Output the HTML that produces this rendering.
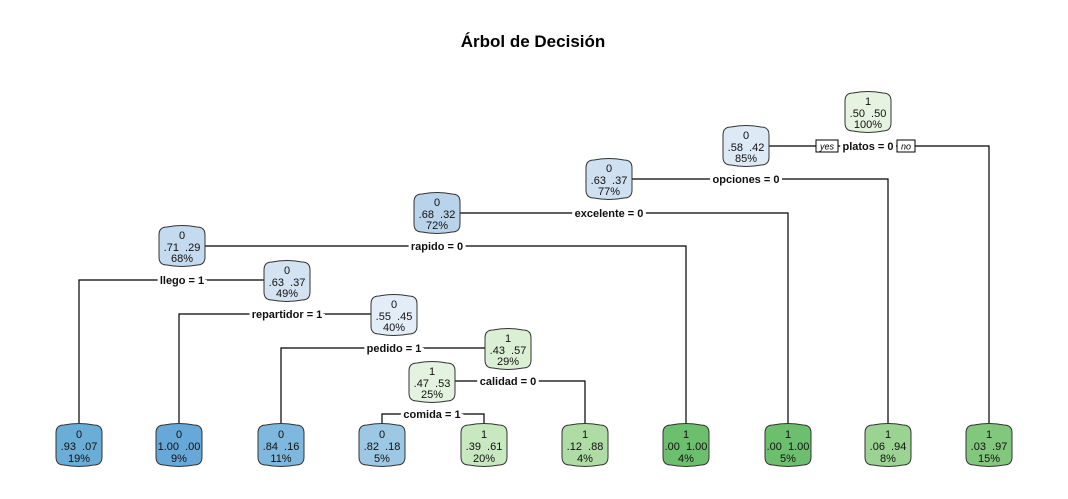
<!DOCTYPE html>
<html><head><meta charset="utf-8"><style>
html,body{margin:0;padding:0;background:#fff;}
svg{display:block;font-family:"Liberation Sans",Arial,sans-serif;}
.n{stroke:#333;stroke-width:1;}
.t{font-size:11px;text-anchor:middle;fill:#111;}
.l{font-size:11px;font-weight:bold;text-anchor:middle;fill:#111;paint-order:stroke;stroke:#fff;stroke-width:6px;}
.w{stroke:#000;stroke-width:1.2;fill:none;}
</style></head><body>
<svg width="1068" height="499" viewBox="0 0 1068 499">
<rect width="1068" height="499" fill="#fff"/>
<text x="533" y="47" font-size="17" font-weight="bold" text-anchor="middle">Árbol de Decisión</text>
<!-- connectors -->
<polyline class="w" points="769,146 989,146 989,425"/>
<polyline class="w" points="632,179 888,179 888,425"/>
<polyline class="w" points="460,213 788,213 788,425"/>
<polyline class="w" points="205,246 686,246 686,425"/>
<polyline class="w" points="79,425 79,280 264,280"/>
<polyline class="w" points="179,425 179,314 371,314"/>
<polyline class="w" points="281,425 281,348 485,348"/>
<polyline class="w" points="455,381 585,381 585,425"/>
<polyline class="w" points="382,425 382,414 484,414 484,425"/>
<!-- labels -->
<text class="l" x="868" y="150">platos = 0</text>
<rect x="816" y="140" width="22" height="12" fill="#fff" stroke="#000"/>
<text x="827" y="149.5" font-size="9" font-style="italic" text-anchor="middle">yes</text>
<rect x="897" y="140" width="18" height="12" fill="#fff" stroke="#000"/>
<text x="906" y="149.5" font-size="9" font-style="italic" text-anchor="middle">no</text>
<text class="l" x="746" y="183">opciones = 0</text>
<text class="l" x="609" y="217">excelente = 0</text>
<text class="l" x="437" y="250">rapido = 0</text>
<text class="l" x="182" y="284">llego = 1</text>
<text class="l" x="287" y="318">repartidor = 1</text>
<text class="l" x="394" y="352">pedido = 1</text>
<text class="l" x="508" y="385">calidad = 0</text>
<text class="l" x="432" y="418">comida = 1</text>
<!-- nodes -->
<g>
<path class="n" fill="#e5f3e0" d="M845,101 Q845,93 853,93 Q868,90 883,93 Q891,93 891,101 L891,123 Q891,131 883,131 Q868,134 853,131 Q845,131 845,123 Z"/>
<text class="t" x="868" y="105">1</text><text class="t" x="868" y="117">.50&#160;&#160;.50</text><text class="t" x="868" y="128">100%</text>
<path class="n" fill="#dde9f5" d="M723,135 Q723,127 731,127 Q746,124 761,127 Q769,127 769,135 L769,157 Q769,165 761,165 Q746,168 731,165 Q723,165 723,157 Z"/>
<text class="t" x="746" y="139">0</text><text class="t" x="746" y="151">.58&#160;&#160;.42</text><text class="t" x="746" y="162">85%</text>
<path class="n" fill="#cfe0f0" d="M586,168 Q586,160 594,160 Q609,157 624,160 Q632,160 632,168 L632,190 Q632,198 624,198 Q609,201 594,198 Q586,198 586,190 Z"/>
<text class="t" x="609" y="172">0</text><text class="t" x="609" y="184">.63&#160;&#160;.37</text><text class="t" x="609" y="195">77%</text>
<path class="n" fill="#b8d3ea" d="M414,202 Q414,194 422,194 Q437,191 452,194 Q460,194 460,202 L460,224 Q460,232 452,232 Q437,235 422,232 Q414,232 414,224 Z"/>
<text class="t" x="437" y="206">0</text><text class="t" x="437" y="218">.68&#160;&#160;.32</text><text class="t" x="437" y="229">72%</text>
<path class="n" fill="#c4daee" d="M159,235 Q159,227 167,227 Q182,224 197,227 Q205,227 205,235 L205,257 Q205,265 197,265 Q182,268 167,265 Q159,265 159,257 Z"/>
<text class="t" x="182" y="239">0</text><text class="t" x="182" y="251">.71&#160;&#160;.29</text><text class="t" x="182" y="262">68%</text>
<path class="n" fill="#d3e3f2" d="M264,270 Q264,262 272,262 Q287,259 302,262 Q310,262 310,270 L310,292 Q310,300 302,300 Q287,303 272,300 Q264,300 264,292 Z"/>
<text class="t" x="287" y="274">0</text><text class="t" x="287" y="286">.63&#160;&#160;.37</text><text class="t" x="287" y="297">49%</text>
<path class="n" fill="#e3edf7" d="M371,304 Q371,296 379,296 Q394,293 409,296 Q417,296 417,304 L417,326 Q417,334 409,334 Q394,337 379,334 Q371,334 371,326 Z"/>
<text class="t" x="394" y="308">0</text><text class="t" x="394" y="320">.55&#160;&#160;.45</text><text class="t" x="394" y="331">40%</text>
<path class="n" fill="#dbefd5" d="M485,338 Q485,330 493,330 Q508,327 523,330 Q531,330 531,338 L531,360 Q531,368 523,368 Q508,371 493,368 Q485,368 485,360 Z"/>
<text class="t" x="508" y="342">1</text><text class="t" x="508" y="354">.43&#160;&#160;.57</text><text class="t" x="508" y="365">29%</text>
<path class="n" fill="#e3f3df" d="M409,371 Q409,363 417,363 Q432,360 447,363 Q455,363 455,371 L455,393 Q455,401 447,401 Q432,404 417,401 Q409,401 409,393 Z"/>
<text class="t" x="432" y="375">1</text><text class="t" x="432" y="387">.47&#160;&#160;.53</text><text class="t" x="432" y="398">25%</text>
</g>
<g>
<path class="n" fill="#6aaed8" d="M56,433 Q56,425 64,425 Q79,422 94,425 Q102,425 102,433 L102,457 Q102,465 94,465 Q79,468 64,465 Q56,465 56,457 Z"/>
<text class="t" x="79" y="438">0</text><text class="t" x="79" y="450">.93&#160;&#160;.07</text><text class="t" x="79" y="462">19%</text>
<path class="n" fill="#66a9d9" d="M156,433 Q156,425 164,425 Q179,422 194,425 Q202,425 202,433 L202,457 Q202,465 194,465 Q179,468 164,465 Q156,465 156,457 Z"/>
<text class="t" x="179" y="438">0</text><text class="t" x="179" y="450">1.00&#160;&#160;.00</text><text class="t" x="179" y="462">9%</text>
<path class="n" fill="#7fb8de" d="M258,433 Q258,425 266,425 Q281,422 296,425 Q304,425 304,433 L304,457 Q304,465 296,465 Q281,468 266,465 Q258,465 258,457 Z"/>
<text class="t" x="281" y="438">0</text><text class="t" x="281" y="450">.84&#160;&#160;.16</text><text class="t" x="281" y="462">11%</text>
<path class="n" fill="#9cc8e4" d="M359,433 Q359,425 367,425 Q382,422 397,425 Q405,425 405,433 L405,457 Q405,465 397,465 Q382,468 367,465 Q359,465 359,457 Z"/>
<text class="t" x="382" y="438">0</text><text class="t" x="382" y="450">.82&#160;&#160;.18</text><text class="t" x="382" y="462">5%</text>
<path class="n" fill="#c8e8c0" d="M461,433 Q461,425 469,425 Q484,422 499,425 Q507,425 507,433 L507,457 Q507,465 499,465 Q484,468 469,465 Q461,465 461,457 Z"/>
<text class="t" x="484" y="438">1</text><text class="t" x="484" y="450">.39&#160;&#160;.61</text><text class="t" x="484" y="462">20%</text>
<path class="n" fill="#aedca4" d="M562,433 Q562,425 570,425 Q585,422 600,425 Q608,425 608,433 L608,457 Q608,465 600,465 Q585,468 570,465 Q562,465 562,457 Z"/>
<text class="t" x="585" y="438">1</text><text class="t" x="585" y="450">.12&#160;&#160;.88</text><text class="t" x="585" y="462">4%</text>
<path class="n" fill="#6cbf6c" d="M663,433 Q663,425 671,425 Q686,422 701,425 Q709,425 709,433 L709,457 Q709,465 701,465 Q686,468 671,465 Q663,465 663,457 Z"/>
<text class="t" x="686" y="438">1</text><text class="t" x="686" y="450">.00&#160;&#160;1.00</text><text class="t" x="686" y="462">4%</text>
<path class="n" fill="#6cbf6c" d="M765,433 Q765,425 773,425 Q788,422 803,425 Q811,425 811,433 L811,457 Q811,465 803,465 Q788,468 773,465 Q765,465 765,457 Z"/>
<text class="t" x="788" y="438">1</text><text class="t" x="788" y="450">.00&#160;&#160;1.00</text><text class="t" x="788" y="462">5%</text>
<path class="n" fill="#9bd393" d="M865,433 Q865,425 873,425 Q888,422 903,425 Q911,425 911,433 L911,457 Q911,465 903,465 Q888,468 873,465 Q865,465 865,457 Z"/>
<text class="t" x="888" y="438">1</text><text class="t" x="888" y="450">.06&#160;&#160;.94</text><text class="t" x="888" y="462">8%</text>
<path class="n" fill="#82c87c" d="M966,433 Q966,425 974,425 Q989,422 1004,425 Q1012,425 1012,433 L1012,457 Q1012,465 1004,465 Q989,468 974,465 Q966,465 966,457 Z"/>
<text class="t" x="989" y="438">1</text><text class="t" x="989" y="450">.03&#160;&#160;.97</text><text class="t" x="989" y="462">15%</text>
</g>
</svg>
</body></html>
